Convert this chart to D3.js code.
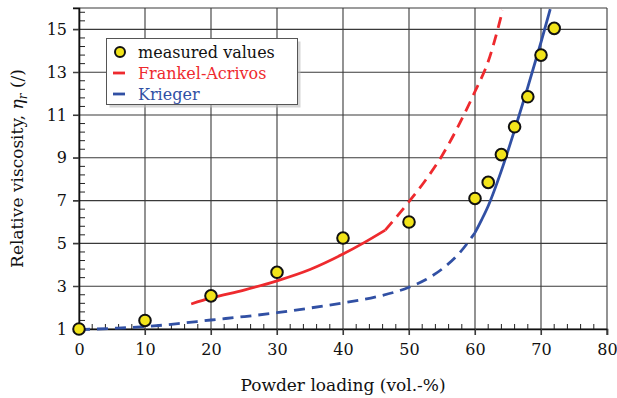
<!DOCTYPE html>
<html>
<head>
<meta charset="utf-8">
<script src="https://cdn.jsdelivr.net/npm/d3@7"></script>
<style>
  body { margin: 0; background: #fff; }
  svg text { font-family: "DejaVu Serif", serif; }
</style>
</head>
<body>
<div id="chart"></div>
<script>
// measured points
var loading = [0, 10, 20, 30, 40, 50, 60, 62, 64, 66, 68, 70, 72]
var viscosity = [1.0, 1.4, 2.55, 3.65, 5.25, 6.0, 7.1, 7.85, 9.15, 10.45, 11.85, 13.8, 15.05]

// model curves [loading, viscosity]
var frankelSolid = [[17, 2.17], [20, 2.45], [25, 2.82], [30, 3.25], [35, 3.78], [40, 4.5], [43, 5.0], [46.4, 5.62]]
var frankelDashed = [[46.4, 5.62], [50, 6.95], [52.5, 7.95], [55, 9.1], [57.5, 10.5], [60, 12.1], [62, 13.5], [64.2, 15.9]]
var kriegerDashed = [[0, 0.97], [5, 1.03], [10, 1.11], [15, 1.25], [20, 1.42], [25, 1.58], [30, 1.76], [35, 1.98], [40, 2.22], [45, 2.5], [50, 2.95], [52.5, 3.3], [55, 3.8], [57.5, 4.5], [60, 5.5]]
var kriegerSolid = [[60, 5.5], [61, 6.1], [62, 6.75], [64, 8.4], [66, 10.3], [68, 12.3], [70, 14.4], [71.4, 15.95]]

var xTicks = [0, 10, 20, 30, 40, 50, 60, 70, 80]
var yTicks = [1, 3, 5, 7, 9, 11, 13, 15]
var legendLabels = ["measured values", "Frankel-Acrivos", "Krieger"]

var red = "#ee2a2e", blue = "#3150a4", yellow = "#f2e41a"

var W = 617, H = 398
var margin = {top: 8, right: 10, bottom: 69, left: 79}

var svg = d3.select("#chart").append("svg")
  .attr("width", W).attr("height", H)

var x = d3.scaleLinear().domain([0, 80]).range([margin.left, W - margin.right])
var y = d3.scaleLinear().domain([1, 16]).range([H - margin.bottom, margin.top])

var x0 = x(0), x1 = x(80), y0 = y(1), y1 = y(16)

// grid (major lines poke out past the axes)
var grid = svg.append("g").attr("stroke", "#3a3a3a").attr("stroke-width", 1.1)
grid.selectAll(".vx").data(xTicks).join("line")
  .attr("x1", d => x(d)).attr("x2", d => x(d))
  .attr("y1", y1).attr("y2", y0 + 6)
grid.selectAll(".hy").data(yTicks.concat([16])).join("line")
  .attr("y1", d => y(d)).attr("y2", d => y(d))
  .attr("x1", x0 - 6).attr("x2", x1)

// minor ticks, inside
var minorX = d3.range(0, 81, 2).filter(d => d % 10 != 0)
var minorY = d3.range(1, 16.01, 0.4).filter(d => Math.abs((d - 1) / 2 - Math.round((d - 1) / 2)) > 0.01)
svg.append("g").attr("stroke", "#222").attr("stroke-width", 1)
  .selectAll("line").data(minorX).join("line")
  .attr("x1", d => x(d)).attr("x2", d => x(d))
  .attr("y1", y0).attr("y2", y0 - 5)
svg.append("g").attr("stroke", "#222").attr("stroke-width", 1)
  .selectAll("line").data(minorY).join("line")
  .attr("y1", d => y(d)).attr("y2", d => y(d))
  .attr("x1", x0).attr("x2", x0 + 6)

// axes with labels
var xAxis = svg.append("g")
  .attr("transform", `translate(0,${y0})`)
  .call(d3.axisBottom(x).tickValues(xTicks).tickSize(6).tickPadding(9).tickFormat(d3.format("d")))
var yAxis = svg.append("g")
  .attr("transform", `translate(${x0},0)`)
  .call(d3.axisLeft(y).tickValues(yTicks).tickSize(6).tickPadding(6).tickFormat(d3.format("d")))
;[xAxis, yAxis].forEach(function(a) {
  a.select(".domain").attr("stroke", "#111").attr("stroke-width", 1.6)
  a.selectAll(".tick line").attr("stroke", "#3a3a3a").attr("stroke-width", 1.1)
  a.selectAll("text").attr("fill", "#111").style("font-size", "16px")
    .style("font-family", "DejaVu Serif, serif")
})

// curves
var line = d3.line().x(d => x(d[0])).y(d => y(d[1])).curve(d3.curveMonotoneX)
function curve(pts, color, dashed) {
  svg.append("path")
    .datum(pts)
    .attr("fill", "none")
    .attr("stroke", color)
    .attr("stroke-width", 2.8)
    .attr("stroke-dasharray", dashed ? "11,7" : null)
    .attr("d", line)
}
curve(kriegerDashed, blue, true)
curve(kriegerSolid, blue, false)
curve(frankelSolid, red, false)
curve(frankelDashed, red, true)

// points
svg.append("g").selectAll("circle")
  .data(loading.map((d, i) => [d, viscosity[i]]))
  .join("circle")
  .attr("cx", d => x(d[0])).attr("cy", d => y(d[1]))
  .attr("r", 5.8)
  .attr("fill", yellow).attr("stroke", "#111").attr("stroke-width", 2)

// axis titles
svg.append("text")
  .attr("x", (x0 + x1) / 2).attr("y", 391)
  .attr("text-anchor", "middle")
  .style("font-size", "17px").attr("fill", "#111")
  .text("Powder loading (vol.-%)")

var yt = svg.append("text")
  .attr("transform", "translate(23," + ((y0 + y1) / 2) + ") rotate(-90)")
  .attr("text-anchor", "middle")
  .style("font-size", "17px").attr("fill", "#111")
yt.append("tspan").text("Relative viscosity, ")
yt.append("tspan").style("font-style", "italic").text("η")
yt.append("tspan").style("font-style", "italic").style("font-size", "12px").attr("dy", 4).text("r")
yt.append("tspan").attr("dy", -4).text("  (/)")

// Handmade legend
var lx = 106.5, ly = 38.5, lw = 191, lh = 66
svg.append("rect").attr("x", lx + 3).attr("y", ly + 3).attr("width", lw).attr("height", lh)
  .attr("fill", "#bbb").attr("opacity", 0.6)
svg.append("rect").attr("x", lx).attr("y", ly).attr("width", lw).attr("height", lh)
  .attr("fill", "#fff").attr("stroke", "#555").attr("stroke-width", 1)
var rowY = [52, 73, 94]
svg.append("circle").attr("cx", 120).attr("cy", rowY[0]).attr("r", 5)
  .attr("fill", yellow).attr("stroke", "#111").attr("stroke-width", 2)
svg.append("line").attr("x1", 113).attr("x2", 125).attr("y1", rowY[1]).attr("y2", rowY[1])
  .attr("stroke", red).attr("stroke-width", 2.8)
svg.append("line").attr("x1", 113).attr("x2", 125).attr("y1", rowY[2]).attr("y2", rowY[2])
  .attr("stroke", blue).attr("stroke-width", 2.8)
var legendColors = ["#111", red, blue]
legendLabels.forEach(function(t, i) {
  svg.append("text").attr("x", 138).attr("y", rowY[i]).attr("dy", "0.35em")
    .style("font-size", "16px").attr("fill", legendColors[i]).text(t)
})
</script>
</body>
</html>
